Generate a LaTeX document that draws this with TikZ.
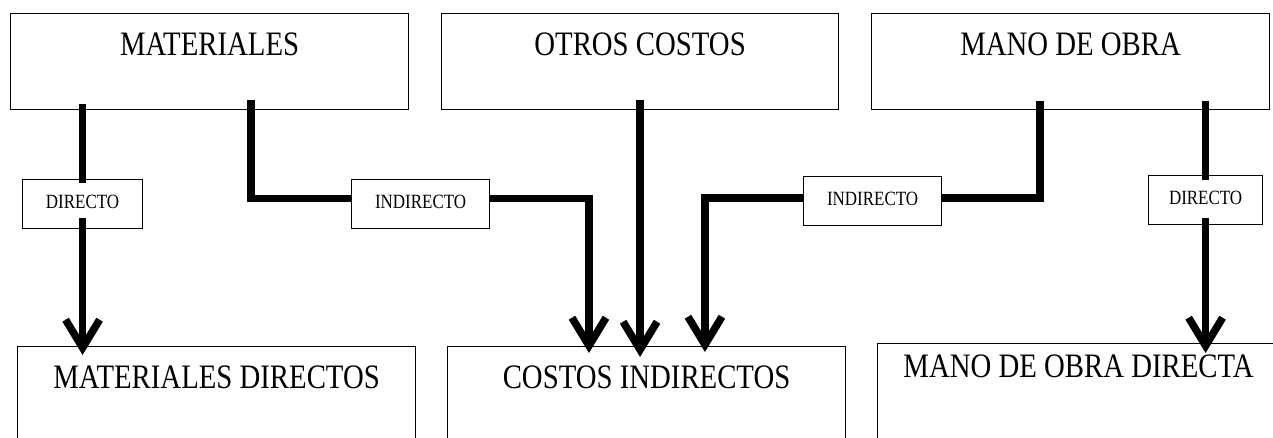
\documentclass[tikz,border=0pt]{standalone}
\usepackage{fontspec}
\setmainfont{Liberation Serif}[FakeStretch=0.84]
\usetikzlibrary{arrows.meta}
\begin{document}
\begin{tikzpicture}[x=0.02cm, y=-0.02cm,
                    cost/.style={draw, line width=0.7pt, inner sep=0pt, anchor=north west, minimum width=7.96cm,
                                 font=\fontsize{19.5}{23}\selectfont, text height=0.84cm, text depth=1.08cm},
                    total/.style={cost, text depth=1.6cm},
                    tag/.style={draw, line width=0.7pt, inner sep=0pt, anchor=north west,
                                font=\fontsize{11.5}{13}\selectfont, text height=0.58cm, text depth=0.4cm},
                    flow/.style={line width=4.3pt},
                    into/.style={flow, -{Straight Barb[length=0.56cm, width=0.68cm]}}]
\path[use as bounding box, clip] (0,0) rectangle (1273,437);

\node[cost] (mat) at (10,13) {MATERIALES};
\node[cost, minimum width=7.94cm] (otros) at (441,13) {OTROS COSTOS};
\node[cost] (mano) at (871,13) {MANO DE OBRA};
\node[total] (matdir) at (17,346) {MATERIALES DIRECTOS};
\node[total] (cosind) at (447,346) {COSTOS INDIRECTOS};
\node[total, minimum width=8.04cm, text height=0.68cm] (manodir) at (877,343) {MANO DE OBRA DIRECTA};

\node[tag, minimum width=2.4cm] (dirA) at (22,179) {DIRECTO};
\node[tag, minimum width=2.76cm] (indA) at (351,179) {INDIRECTO};
\node[tag, minimum width=2.76cm] (indB) at (803,176) {INDIRECTO};
\node[tag, minimum width=2.28cm] (dirB) at (1148,175) {DIRECTO};

\draw[flow, shorten <=-0.12cm, shorten >=-0.08cm] (mat.south -| dirA.north) -- (dirA.north);
\draw[into, shorten <=-0.22cm, shorten >=-0.18cm] (dirA.south) -- (dirA.south |- matdir.north);
\draw[flow, shorten <=-0.2cm] ([xshift=4.82cm]mat.south west) |- ([yshift=0.11cm]indA.west);
\draw[into, shorten >=-0.14cm] ([yshift=0.11cm]indA.east) -| ([xshift=2.84cm]cosind.north west);
\draw[into, shorten <=-0.2cm, shorten >=-0.22cm] (otros.south) -- (otros.south |- cosind.north);
\draw[flow, shorten <=-0.18cm] ([xshift=3.38cm]mano.south west) |- ([yshift=0.06cm]indB.east);
\draw[into, shorten >=-0.12cm] ([yshift=0.06cm]indB.west) -| ([xshift=5.16cm]cosind.north west);
\draw[flow, shorten <=-0.18cm, shorten >=-0.1cm] (mano.south -| dirB.north) -- (dirB.north);
\draw[into, shorten <=-0.14cm, shorten >=-0.2cm] (dirB.south) -- (dirB.south |- manodir.north);
\end{tikzpicture}
\end{document}
